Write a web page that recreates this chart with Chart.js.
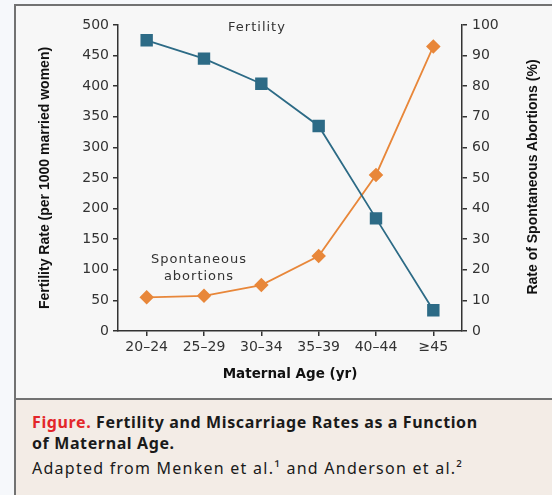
<!DOCTYPE html>
<html>
<head>
<meta charset="utf-8">
<script src="https://cdn.jsdelivr.net/npm/chart.js@4"></script>
<style>
  html, body { margin: 0; padding: 0; }
  body { width: 552px; height: 495px; background: #f6f8fb; position: relative; overflow: hidden; font-family: "DejaVu Sans", sans-serif; }
  #frame { position: absolute; left: 14px; top: 4px; width: 538px; height: 491px; border-left: 2px solid #727272; border-top: 2px solid #727272; box-sizing: border-box; background: #f7f7f7; }
  #caption { position: absolute; left: 14px; top: 398px; width: 538px; height: 97px; border-left: 2px solid #727272; border-top: 2px solid #727272; box-sizing: border-box; background: #f3ece6; }
  #wrap { position: absolute; left: 15px; top: 5px; width: 537px; height: 394px; }
  .note { position: absolute; font-size: 13px; color: #333; letter-spacing: 1px; text-align: center; line-height: 17px; }
  .vt { position: absolute; width: 300px; height: 16px; line-height: 16px; text-align: center; transform: rotate(-90deg); transform-origin: 50% 50%;
        font-family: "Liberation Sans", Arial, sans-serif; font-weight: bold; font-size: 14px; color: #111; white-space: nowrap; }
  .cap { position: absolute; left: 32px; font-family: "Noto Sans", sans-serif; font-size: 16px; color: #1a1a1a; white-space: nowrap; }
  .cap b { font-weight: 700; letter-spacing: 0.62px; }
  .red { color: #e3262a; }
</style>
</head>
<body>
<div id="frame"></div>
<div id="caption"></div>
<div id="wrap"><canvas id="canvas1"></canvas></div>
<div class="note" style="left:217px; top:18px; width:80px;">Fertility</div>
<div class="note" style="left:139px; top:250px; width:120px;">Spontaneous<br>abortions</div>
<div class="vt" style="left:-106px; top:170px;">Fertility Rate (per 1000 married women)</div>
<div class="vt" style="left:382px; top:169px;">Rate of Spontaneous Abortions (%)</div>
<div class="cap" style="top:411px;"><b><span class="red">Figure.</span> Fertility and Miscarriage Rates as a Function</b></div>
<div class="cap" style="top:432px;"><b>of Maternal Age.</b></div>
<div class="cap" style="top:457px; letter-spacing: 1.25px;">Adapted from Menken et al.¹ and Anderson et al.²</div>
<script>
// categorias y datos
const ageGroups = ['20–24', '25–29', '30–34', '35–39', '40–44', '≥45'];
const fertilityRate = [475, 445, 404, 335, 184, 34];
const abortionRate = [11, 11.5, 15, 24.5, 51, 93];

const ctx1 = document.getElementById('canvas1');

new Chart(ctx1, {
    type: 'line',
    data: {
        labels: ageGroups,
        datasets: [{
            label: 'Fertility',
            data: fertilityRate,
            yAxisID: 'y',
            borderColor: '#2d6b86',
            backgroundColor: '#2d6b86',
            borderWidth: 1.8,
            pointStyle: 'rect',
            pointRadius: 7.5,
            pointHoverRadius: 7.5,
            tension: 0
        },
        {
            label: 'Spontaneous abortions',
            data: abortionRate,
            yAxisID: 'y2',
            borderColor: '#e8873a',
            backgroundColor: '#e8873a',
            borderWidth: 1.8,
            pointStyle: 'rectRot',
            pointRadius: 6,
            pointHoverRadius: 6,
            tension: 0
        }]
    },
    options: {
        maintainAspectRatio: false,
        responsive: true,
        animation: false,
        layout: { padding: { top: 20, left: 0, right: 0, bottom: 0 } },
        plugins: {
            legend: { display: false },
            tooltip: { enabled: false }
        },
        scales: {
            x: {
                offset: true,
                afterFit: (s) => { s.height = 68; },
                grid: { drawOnChartArea: false, tickLength: 5, color: '#333', lineWidth: 1.5 },
                border: { color: '#333', width: 1.5 },
                ticks: { color: '#333', font: { family: 'DejaVu Sans', size: 14 }, padding: 3, maxRotation: 0 },
                title: {
                    display: true,
                    text: 'Maternal Age (yr)',
                    color: '#111',
                    font: { family: 'DejaVu Sans', size: 13.5, weight: 'bold' },
                    padding: { top: 4, bottom: 16 }
                }
            },
            y: {
                position: 'left',
                min: 0,
                max: 500,
                afterFit: (s) => { s.width = 103; },
                grid: { drawOnChartArea: false, tickLength: 5, color: '#333', lineWidth: 1.5 },
                border: { color: '#333', width: 1.5 },
                ticks: { stepSize: 50, color: '#333', font: { family: 'DejaVu Sans', size: 14 }, padding: 4 }
            },
            y2: {
                position: 'right',
                min: 0,
                max: 100,
                afterFit: (s) => { s.width = 90; },
                grid: { drawOnChartArea: false, tickLength: 5, color: '#333', lineWidth: 1.5 },
                border: { color: '#333', width: 1.5 },
                ticks: { stepSize: 10, color: '#333', font: { family: 'DejaVu Sans', size: 14 }, padding: 5 }
            }
        }
    }
});
</script>
</body>
</html>
